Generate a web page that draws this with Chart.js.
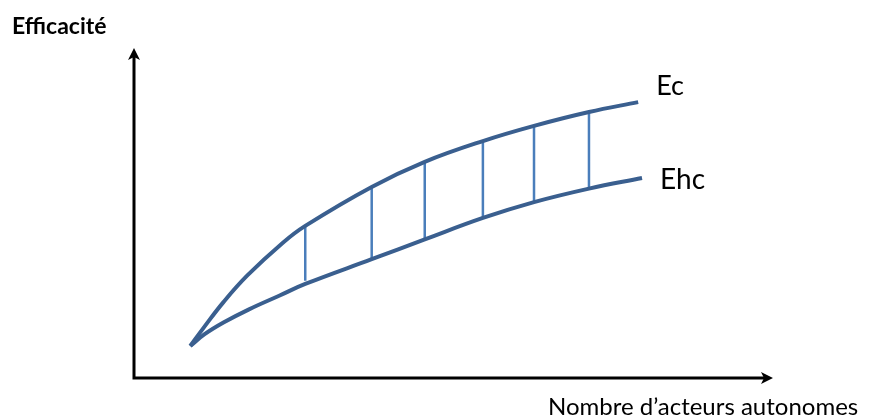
<!DOCTYPE html>
<html>
<head>
<meta charset="utf-8">
<script src="https://cdn.jsdelivr.net/npm/chart.js@4/dist/chart.umd.min.js"></script>
<style>
  html, body { margin: 0; padding: 0; background: #fff; }
  #wrap { width: 870px; height: 417px; }
</style>
</head>
<body>
<div id="wrap"><canvas id="c"></canvas></div>
<script>
'use strict';

// data (x: nombre d'acteurs, y: efficacité, both 0..100)
const ecX = [8.8, 11.0, 14.0, 17.7, 23.3, 26.8, 37.2, 45.5, 54.6, 62.6, 71.2, 78.9];
const ecY = [9.7, 15.5, 23.0, 31.0, 41.0, 46.1, 57.9, 65.5, 71.8, 76.4, 80.6, 83.6];

const ehcX = [8.8, 11.0, 14.0, 18.0, 22.8, 26.8, 37.2, 45.5, 54.6, 62.6, 71.2, 79.5];
const ehcY = [9.7, 13.2, 16.8, 20.8, 25.0, 28.5, 36.0, 42.0, 48.5, 53.3, 57.4, 60.6];

// vertical links between the two curves
const linkX = [26.8, 37.2, 45.5, 54.6, 62.6, 71.2];
const linkTop = [46.1, 57.9, 65.5, 71.8, 76.4, 80.6];
const linkBottom = [29.5, 36.0, 42.0, 48.5, 53.3, 57.4];

const seriesNames = ['Ec', 'Ehc'];
const yTitle = 'Efficacité';
const xTitle = 'Nombre d\u2019acteurs autonomes';

const CURVE = '#3a5f8f';
const LINK = '#4a7ebb';

function toPoints(xs, ys) {
  return xs.map((x, i) => ({ x: x, y: ys[i] }));
}

function linkPoints() {
  let pts = [];
  for(let i = 0; i < linkX.length; i++) {
    pts.push({ x: linkX[i], y: linkTop[i] });
    pts.push({ x: linkX[i], y: linkBottom[i] });
    pts.push({ x: linkX[i], y: null });
  }
  return pts;
}

/* Axes with arrow heads, titles and the curve labels */
const decorations = {
  id: 'decorations',
  afterDatasetsDraw(chart) {
    const ctx = chart.ctx;
    const a = chart.chartArea;
    ctx.save();

    // axes
    ctx.strokeStyle = '#000';
    ctx.fillStyle = '#000';
    ctx.lineWidth = 3;
    ctx.beginPath();
    ctx.moveTo(a.left, a.top + 4);
    ctx.lineTo(a.left, a.bottom);
    ctx.lineTo(a.right - 4, a.bottom);
    ctx.stroke();

    // arrow heads
    ctx.beginPath();
    ctx.moveTo(a.left, a.top);
    ctx.lineTo(a.left + 6, a.top + 12);
    ctx.lineTo(a.left, a.top + 9);
    ctx.lineTo(a.left - 6, a.top + 12);
    ctx.closePath();
    ctx.fill();

    ctx.beginPath();
    ctx.moveTo(a.right, a.bottom);
    ctx.lineTo(a.right - 12, a.bottom - 6);
    ctx.lineTo(a.right - 9, a.bottom);
    ctx.lineTo(a.right - 12, a.bottom + 6);
    ctx.closePath();
    ctx.fill();

    // titles
    ctx.textBaseline = 'middle';
    ctx.textAlign = 'left';
    ctx.font = 'bold 23px Lato';
    ctx.fillText(yTitle, 12, 27, 97);
    ctx.font = '24px Lato';
    ctx.fillText(xTitle, 548, 407, 315);

    // series labels next to the curve ends
    const xs = chart.scales.x, ys = chart.scales.y;
    const ecEnd = ecX.length - 1, ehcEnd = ehcX.length - 1;
    ctx.font = '27px Lato';
    ctx.fillText(seriesNames[0], xs.getPixelForValue(ecX[ecEnd]) + 18, ys.getPixelForValue(ecY[ecEnd]) - 16);
    ctx.font = '28px Lato';
    ctx.fillText(seriesNames[1], xs.getPixelForValue(ehcX[ehcEnd]) + 18, ys.getPixelForValue(ehcY[ehcEnd]) + 2);

    ctx.restore();
  }
};

new Chart(document.getElementById('c'), {
  type: 'scatter',
  data: {
    datasets: [
      {
        label: seriesNames[0],
        data: toPoints(ecX, ecY),
        showLine: true,
        borderColor: CURVE,
        borderWidth: 4,
        pointRadius: 0,
        tension: 0.4
      },
      {
        label: seriesNames[1],
        data: toPoints(ehcX, ehcY),
        showLine: true,
        borderColor: CURVE,
        borderWidth: 4,
        pointRadius: 0,
        tension: 0.4
      },
      {
        label: 'links',
        data: linkPoints(),
        showLine: true,
        spanGaps: false,
        borderColor: LINK,
        borderWidth: 2.5,
        pointRadius: 0
      }
    ]
  },
  options: {
    responsive: true,
    maintainAspectRatio: false,
    animation: false,
    layout: { padding: { left: 134, top: 48, right: 97, bottom: 39 } },
    plugins: {
      legend: { display: false },
      tooltip: { enabled: false }
    },
    scales: {
      x: { type: 'linear', min: 0, max: 100, display: false },
      y: { type: 'linear', min: 0, max: 100, display: false }
    }
  },
  plugins: [decorations]
});
</script>
</body>
</html>
